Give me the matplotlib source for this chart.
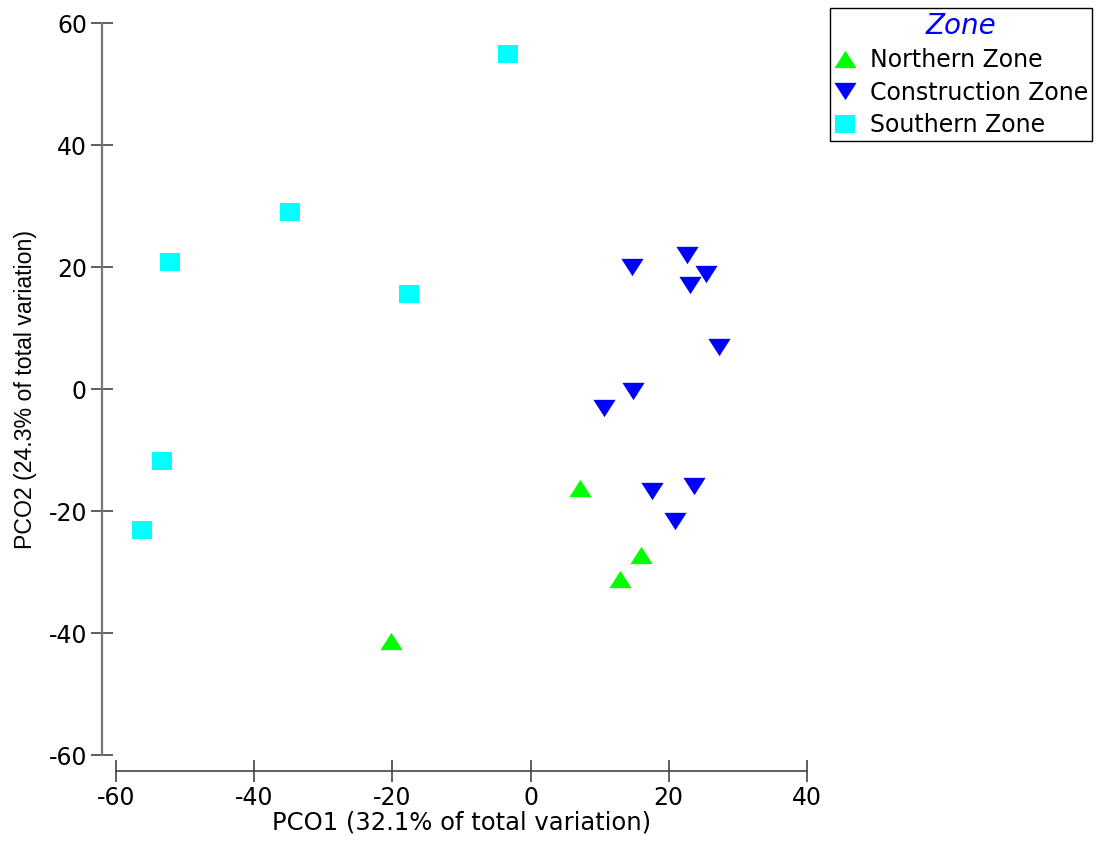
import matplotlib

matplotlib.use("Agg")
import matplotlib.pyplot as plt
from matplotlib.lines import Line2D

plt.rcParams["font.family"] = ["DejaVu Sans"]
plt.rcParams["axes.unicode_minus"] = False

# PCO scores
north_x = [7.1, 16.0, 12.9, -20.2]
north_y = [-16.1, -27.2, -31.1, -41.2]

constr_x = [22.6, 14.7, 25.4, 23.1, 27.3, 14.9, 10.6, 17.6, 23.7, 20.9]
constr_y = [22.1, 20.0, 18.9, 17.1, 6.9, -0.2, -3.0, -16.6, -15.9, -21.5]

south_x = [-3.3, -34.8, -52.2, -17.6, -53.4, -56.3]
south_y = [54.9, 29.1, 20.8, 15.6, -11.7, -23.1]

zones = ["Northern Zone", "Construction Zone", "Southern Zone"]
colors = ["#00ff00", "#0000ff", "#00ffff"]

# slightly flattened triangles / rectangle like the PRIMER output
TRI_UP = [(-1, -0.78), (1, -0.78), (0, 0.78), (-1, -0.78)]
TRI_DOWN = [(-1, 0.78), (1, 0.78), (0, -0.78), (-1, 0.78)]
SQUARE = [(-1, -0.9), (1, -0.9), (1, 0.9), (-1, 0.9), (-1, -0.9)]
markers = [TRI_UP, TRI_DOWN, SQUARE]
sizes = [16, 16, 14]

fig = plt.figure(figsize=(11, 8.43), dpi=100)
ax = fig.add_axes([0.1055, 0.1038, 0.628, 0.8686])

series = [(north_x, north_y), (constr_x, constr_y), (south_x, south_y)]
for (xs, ys), col, mk, ms in zip(series, colors, markers, sizes):
    ax.plot(xs, ys, linestyle="none", marker=mk, markersize=ms,
            color=col, markeredgewidth=0, clip_on=False)

ax.set_xlim(-60, 40)
ax.set_ylim(-60, 60)
ax.set_xticks(range(-60, 41, 20))
ax.set_yticks(range(-60, 61, 20))

for side in ("top", "right"):
    ax.spines[side].set_visible(False)
ax.spines["left"].set_position(("outward", 10))
ax.spines["bottom"].set_position(("outward", 11))
ax.spines["left"].set_color("#777777")
ax.spines["bottom"].set_color("#444444")
ax.spines["left"].set_linewidth(1.6)
ax.spines["bottom"].set_linewidth(1.2)

ax.tick_params(direction="inout", length=16, width=1.1, color="#333333",
               labelsize=17, pad=3)

ax.set_xlabel("PCO1 (32.1% of total variation)", fontsize=17.5, labelpad=0)
# vertical text in the reference is narrower, so a narrower face here
ax.set_ylabel("PCO2 (24.3% of total variation)", fontsize=16.7, labelpad=8,
              family=["Liberation Sans", "DejaVu Sans"])

handles = [Line2D([], [], linestyle="none", marker=mk, markersize=ms,
                  color=col, markeredgewidth=0)
           for col, mk, ms in zip(colors, markers, sizes)]
leg = fig.legend(handles, zones, loc="upper left",
                 bbox_to_anchor=(830 / 1100, 1 - 8 / 843),
                 title="Zone", fontsize=17, frameon=True, fancybox=False,
                 edgecolor="black", framealpha=1, borderpad=0.15,
                 labelspacing=0.36, handlelength=1.0, handletextpad=0.55,
                 borderaxespad=0)
leg.get_frame().set_linewidth(1.0)
leg.get_title().set_color("#0000ff")
leg.get_title().set_fontstyle("italic")
leg.get_title().set_fontsize(20)

fig.savefig("out.png", dpi=100)
